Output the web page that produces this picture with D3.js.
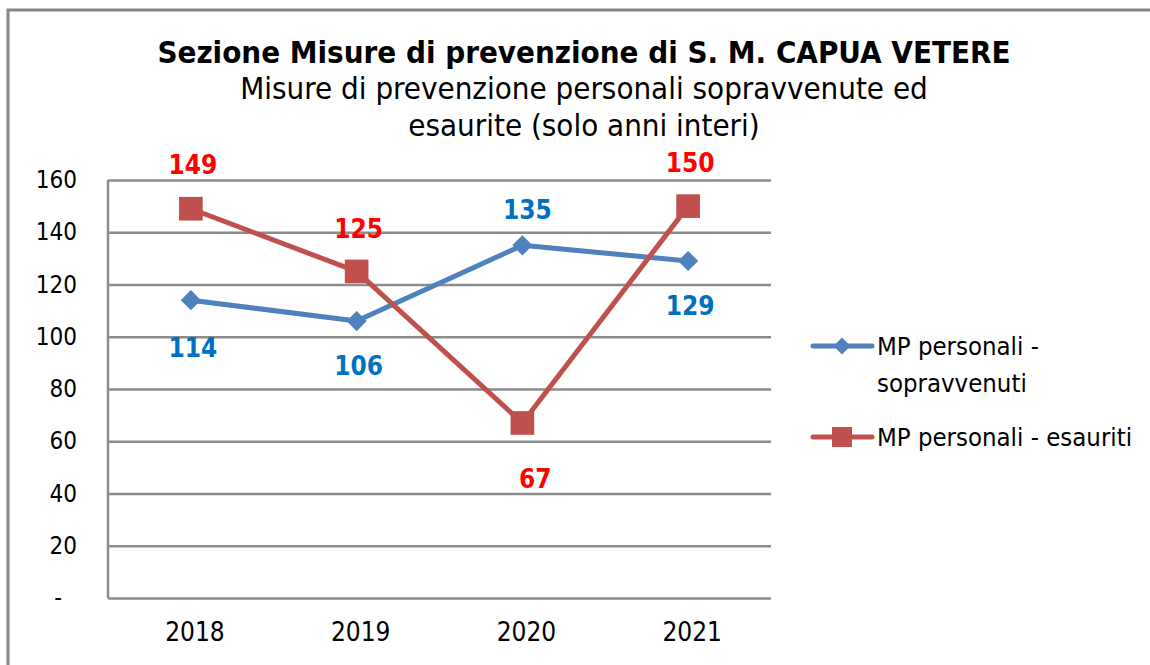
<!DOCTYPE html>
<html>
<head>
<meta charset="utf-8">
<script src="https://cdn.jsdelivr.net/npm/d3@7"></script>
<style>
  body { margin: 0; background: #fff; }
  text { font-family: "Liberation Sans Narrow", "DejaVu Sans Condensed", "Open Sans", sans-serif; }
</style>
</head>
<body>
<div id="chart"></div>
<script>
// chart values
var years = ["2018", "2019", "2020", "2021"];
var sopravvenuti = [114, 106, 135, 129];
var esauriti = [149, 125, 67, 150];
var yTicks = [0, 20, 40, 60, 80, 100, 120, 140, 160];
var seriesNames = ["MP personali - sopravvenuti", "MP personali - esauriti"];

var W = 1150, H = 665;
var margin = {top: 180, left: 108, right: 379, bottom: 67},
    width = W - margin.left - margin.right,
    height = H - margin.top - margin.bottom;

var svg = d3.select("#chart").append("svg")
  .attr("width", W).attr("height", H);

// outer frame
svg.append("path")
  .attr("d", "M8," + H + " V10 H" + W)
  .attr("fill", "none")
  .attr("stroke", "#868686")
  .attr("stroke-width", 3);

// titles
svg.append("text")
  .attr("x", 584).attr("y", 63)
  .attr("text-anchor", "middle")
  .style("font-size", "31px").style("font-weight", "bold")
  .text("Sezione Misure di prevenzione di S. M. CAPUA VETERE");
svg.append("text")
  .attr("x", 584).attr("y", 99)
  .attr("text-anchor", "middle")
  .style("font-size", "31px")
  .text("Misure di prevenzione personali sopravvenute ed");
svg.append("text")
  .attr("x", 584).attr("y", 136)
  .attr("text-anchor", "middle")
  .style("font-size", "31px")
  .text("esaurite (solo anni interi)");

var g = svg.append("g")
  .attr("transform", "translate(" + margin.left + "," + margin.top + ")");

var x = d3.scaleBand().domain(years).range([0, width]);
var y = d3.scaleLinear().domain([0, 160]).range([height, 0]);

// gridlines + y labels
var yAxis = g.append("g")
  .call(d3.axisLeft(y).tickValues(yTicks).tickSize(-width)
    .tickFormat(function(d) { return d === 0 ? "-" : d; }));
yAxis.select(".domain").remove();
yAxis.selectAll(".tick line").attr("stroke", "#8c8c8c").attr("stroke-width", 2.5);
yAxis.selectAll(".tick text")
  .attr("x", function(d) { return d === 0 ? -46 : -31; })
  .style("font-size", "24px").attr("fill", "#000");

// left axis line
g.append("line")
  .attr("x1", 0).attr("x2", 0).attr("y1", 0).attr("y2", height)
  .attr("stroke", "#8c8c8c").attr("stroke-width", 2.5);

// x labels
var xAxis = g.append("g")
  .attr("transform", "translate(0," + height + ")")
  .call(d3.axisBottom(x).tickSize(0).tickPadding(25));
xAxis.select(".domain").remove();
xAxis.selectAll(".tick text").style("font-size", "26px").attr("fill", "#000")
  .attr("dx", 4);

var cx = function(i) { return x(years[i]) + x.bandwidth() / 2; };

// label placement relative to each point
var series = [
  {vals: sopravvenuti, line: "#4F81BD", label: "#0070C0", marker: "diamond",
   dy: [48, 45, -35, 45], dx: [2, 2, 5, 2]},
  {vals: esauriti, line: "#C0504D", label: "#FF0000", marker: "square",
   dy: [-44, -43, 56, -43], dx: [2, 2, 13, 2]}
];

var line = d3.line()
  .x(function(d, i) { return cx(i); })
  .y(function(d) { return y(d); });

series.forEach(function(s) {
  g.append("path")
    .datum(s.vals)
    .attr("d", line)
    .attr("fill", "none")
    .attr("stroke", s.line)
    .attr("stroke-width", 5)
    .attr("stroke-linejoin", "round");
});

series.forEach(function(s) {
  var sym = s.marker === "diamond"
    ? d3.symbol().type(d3.symbolDiamond2).size(260)
    : d3.symbol().type(d3.symbolSquare).size(560);
  g.selectAll(null)
    .data(s.vals)
    .enter().append("path")
      .attr("d", sym)
      .attr("transform", function(d, i) { return "translate(" + cx(i) + "," + y(d) + ")"; })
      .attr("fill", s.line);
  g.selectAll(null)
    .data(s.vals)
    .enter().append("text")
      .attr("x", function(d, i) { return cx(i) + s.dx[i]; })
      .attr("y", function(d, i) { return y(d) + s.dy[i]; })
      .attr("dy", "0.35em")
      .attr("text-anchor", "middle")
      .style("font-size", "26px").style("font-weight", "bold")
      .attr("fill", s.label)
      .text(function(d) { return d; });
});

// legend
var leg = svg.append("g");
var legY = [346, 437];
series.forEach(function(s, i) {
  leg.append("line")
    .attr("x1", 813).attr("x2", 872).attr("y1", legY[i]).attr("y2", legY[i])
    .attr("stroke", s.line).attr("stroke-width", 5).attr("stroke-linecap", "round");
  var sym = s.marker === "diamond"
    ? d3.symbol().type(d3.symbolDiamond2).size(180)
    : d3.symbol().type(d3.symbolSquare).size(400);
  leg.append("path")
    .attr("d", sym)
    .attr("transform", "translate(842," + legY[i] + ")")
    .attr("fill", s.line);
});
leg.append("text").attr("x", 877).attr("y", 346).attr("dy", "0.35em")
  .style("font-size", "25.5px").text("MP personali -");
leg.append("text").attr("x", 877).attr("y", 383).attr("dy", "0.35em")
  .style("font-size", "25.5px").text("sopravvenuti");
leg.append("text").attr("x", 877).attr("y", 437).attr("dy", "0.35em")
  .style("font-size", "25.5px").text(seriesNames[1]);
</script>
</body>
</html>
